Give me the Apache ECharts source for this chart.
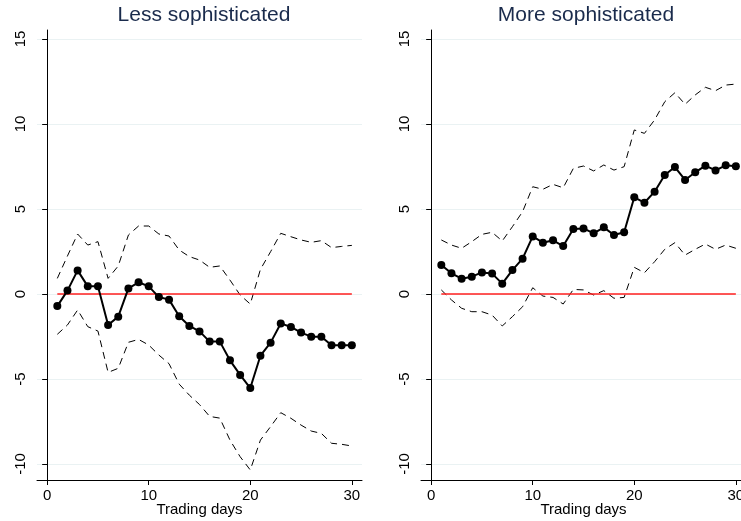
<!DOCTYPE html>
<html>
<head>
<meta charset="utf-8">
<script src="https://cdn.jsdelivr.net/npm/echarts@6/dist/echarts.min.js"></script>
<style>html,body{margin:0;padding:0;background:#fff}#c{width:741px;height:521px}</style>
</head>
<body>
<div id="c"></div>
<script>
const days = [1,2,3,4,5,6,7,8,9,10,11,12,13,14,15,16,17,18,19,20,21,22,23,24,25,26,27,28,29,30];
const panelTitles = ["Less sophisticated", "More sophisticated"];
const xTickLabels = [0, 10, 20, 30];
const yTickLabels = [-10, -5, 0, 5, 10, 15];

const lessMain = [-0.71,0.2,1.39,0.45,0.45,-1.82,-1.33,0.33,0.69,0.45,-0.18,-0.33,-1.31,-1.88,-2.2,-2.8,-2.8,-3.9,-4.76,-5.53,-3.63,-2.86,-1.73,-1.94,-2.27,-2.51,-2.51,-3.02,-3.02,-3.02];
const lessUpper = [0.92,2.24,3.53,2.88,3.08,0.92,1.65,3.47,4.0,4.0,3.53,3.41,2.59,2.2,2.0,1.57,1.65,0.82,-0.06,-0.59,1.45,2.49,3.57,3.37,3.18,3.04,3.14,2.73,2.8,2.86];
const lessLower = [-2.37,-1.82,-0.94,-1.92,-2.18,-4.61,-4.37,-2.84,-2.67,-3.0,-3.59,-4.1,-5.3,-5.95,-6.5,-7.2,-7.3,-8.59,-9.57,-10.35,-8.59,-7.8,-6.98,-7.31,-7.71,-8.06,-8.2,-8.78,-8.84,-8.94];

const moreMain = [1.71,1.22,0.9,1.02,1.27,1.2,0.61,1.41,2.08,3.39,3.02,3.16,2.82,3.82,3.86,3.57,3.92,3.47,3.63,5.69,5.37,6.02,7.0,7.47,6.71,7.16,7.55,7.27,7.57,7.51];
const moreUpper = [3.18,2.88,2.69,3.08,3.51,3.63,3.12,3.96,4.84,6.31,6.16,6.45,6.25,7.39,7.53,7.24,7.59,7.29,7.49,9.65,9.45,10.24,11.31,11.84,11.16,11.71,12.16,11.96,12.29,12.35];
const moreLower = [0.24,-0.35,-0.84,-1.04,-1.04,-1.24,-1.88,-1.33,-0.75,0.37,-0.12,-0.2,-0.59,0.27,0.24,-0.06,0.2,-0.25,-0.2,1.57,1.25,1.9,2.63,3.02,2.29,2.63,2.94,2.63,2.88,2.69];

const zeroLine = days.map(() => 0);

const pair = (ys) => days.map((d, i) => [d, ys[i]]);
const font = "'Liberation Sans', Arial, sans-serif";

function xAx(idx) {
  return {
    type: 'value', gridIndex: idx, min: -1, max: 31,
    axisLine: { show: true, onZero: false, lineStyle: { color: '#000', width: 1 } },
    axisTick: { show: true, length: 5, customValues: xTickLabels, lineStyle: { color: '#000' } },
    axisLabel: { customValues: xTickLabels, color: '#000', fontSize: 15, fontFamily: font, margin: 8 },
    splitLine: { show: false },
    name: 'Trading days', nameLocation: 'middle', nameGap: 22, nameMoveOverlap: false,
    nameTextStyle: { color: '#000', fontSize: 15, fontFamily: font, verticalAlign: 'top' }
  };
}
function yAx(idx) {
  return {
    type: 'value', gridIndex: idx, min: -10.94, max: 15.53,
    axisLine: { show: true, lineStyle: { color: '#000', width: 1 } },
    axisTick: { show: true, length: 5, customValues: yTickLabels, lineStyle: { color: '#000' } },
    axisLabel: { customValues: yTickLabels, rotate: 90, color: '#000', fontSize: 15, fontFamily: font, margin: 9 },
    splitLine: { show: true, customValues: yTickLabels, lineStyle: { color: '#eaf2f3', width: 1 } }
  };
}
function dashed(idx, ys) {
  return { type: 'line', xAxisIndex: idx, yAxisIndex: idx, data: pair(ys), symbol: 'none',
    lineStyle: { color: '#000', width: 1, type: [7, 5] }, z: 2, silent: true };
}
function zero(idx) {
  return { type: 'line', xAxisIndex: idx, yAxisIndex: idx, data: pair(zeroLine), symbol: 'none',
    lineStyle: { color: '#ff2020', width: 1.5 }, z: 3, silent: true };
}
function main(idx, ys) {
  return { type: 'line', xAxisIndex: idx, yAxisIndex: idx, data: pair(ys), symbol: 'circle', symbolSize: 8,
    itemStyle: { color: '#000' }, lineStyle: { color: '#000', width: 2 }, z: 4, silent: true };
}

const chart = echarts.init(document.getElementById('c'), null, { renderer: 'canvas' });
chart.setOption({
  animation: false,
  backgroundColor: '#fff',
  title: [
    { text: panelTitles[0], left: 199, top: 0, textAlign: 'center', textStyle: { color: '#1a2b4c', fontSize: 21, fontWeight: 'normal', fontFamily: font } },
    { text: panelTitles[1], left: 581, top: 0, textAlign: 'center', textStyle: { color: '#1a2b4c', fontSize: 21, fontWeight: 'normal', fontFamily: font } }
  ],
  grid: [
    { left: 37, right: 379, top: 30, bottom: 41, outerBoundsMode: 'none', containLabel: false },
    { left: 421, right: -5, top: 30, bottom: 41, outerBoundsMode: 'none', containLabel: false }
  ],
  xAxis: [xAx(0), xAx(1)],
  yAxis: [yAx(0), yAx(1)],
  series: [
    dashed(0, lessUpper), dashed(0, lessLower), zero(0), main(0, lessMain),
    dashed(1, moreUpper), dashed(1, moreLower), zero(1), main(1, moreMain)
  ]
});
</script>
</body>
</html>
